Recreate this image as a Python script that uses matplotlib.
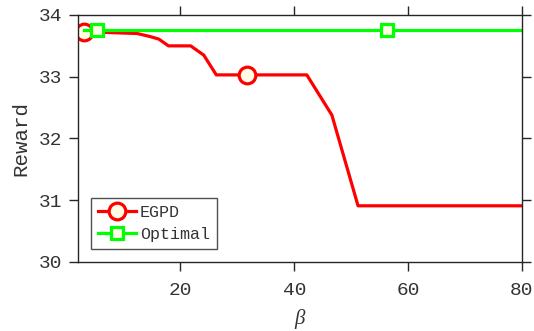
import matplotlib
matplotlib.use("Agg")
import matplotlib.pyplot as plt

# reward vs beta
beta_egpd = [3, 12.4, 14.7, 16.2, 17.9, 21.8, 24.1, 26.3, 31.7, 42.2, 46.6, 51.2, 80]
reward_egpd = [33.73, 33.70, 33.65, 33.61, 33.50, 33.50, 33.35, 33.03, 33.03, 33.03, 32.38, 30.91, 30.91]
egpd_marks = [0, 8]

beta_opt = [3, 5.3, 56.3, 80]
reward_opt = [33.75, 33.75, 33.75, 33.75]
opt_marks = [1, 2]

mono = "Liberation Mono"
ink = "#262626"
txt = "#333333"

fig = plt.figure(figsize=(5.34, 3.31), dpi=100)
ax = fig.add_axes([0.146, 0.2085, 0.8315, 0.7462])

ax.plot(beta_egpd, reward_egpd, color="#ff0000", lw=2.3, marker="o", ms=12,
        mfc="#fffde6", mec="#ff0000", mew=2.3, markevery=egpd_marks, label="EGPD")
ax.plot(beta_opt, reward_opt, color="#00ff00", lw=2.3, marker="s", ms=9,
        mfc="#fffde6", mec="#00ff00", mew=2.3, markevery=opt_marks, label="Optimal")

ax.set_xlim(2, 80)
ax.set_ylim(30, 34)
ax.set_xticks([20, 40, 60, 80])
ax.set_yticks([30, 31, 32, 33, 34])

for s in ax.spines.values():
    s.set_color(ink)
    s.set_linewidth(1.0)
ax.tick_params(direction="out", length=6.5, width=1.0, color=ink, labelcolor=txt,
               labelsize=14, top=True, right=True, labeltop=False, labelright=False)
ax.tick_params(axis="y", pad=5)
ax.tick_params(axis="x", pad=8)
for lab in ax.get_xticklabels() + ax.get_yticklabels():
    lab.set_family(mono)

ax.set_ylabel("Reward", family=mono, fontsize=15, color=txt, labelpad=6)
ax.set_xlabel("β", family="Liberation Serif", style="italic", fontsize=15, color=txt, labelpad=7)

leg = ax.legend(loc="lower left", bbox_to_anchor=(0.029, 0.053), prop={"family": mono, "size": 12},
                frameon=True, fancybox=False, borderpad=0.4, handlelength=2.3,
                handletextpad=0.25, labelspacing=0.45, borderaxespad=0)
leg.get_frame().set_edgecolor(ink)
leg.get_frame().set_linewidth(1.0)
for t in leg.get_texts():
    t.set_color(txt)

fig.savefig("out.png", dpi=100)
